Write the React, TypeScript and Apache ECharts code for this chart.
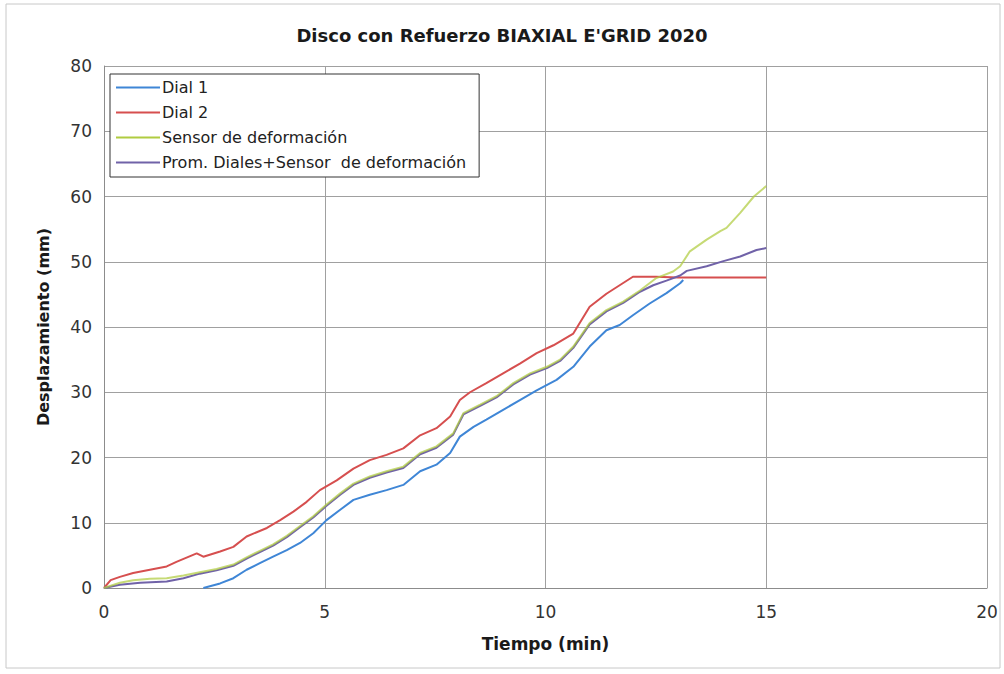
import React, { useEffect, useRef } from "react";
import * as echarts from "echarts";

const titleText = "Disco con Refuerzo BIAXIAL E'GRID 2020";
const xAxisName = "Tiempo (min)";
const yAxisName = "Desplazamiento (mm)";
const seriesNames = ["Dial 1", "Dial 2", "Sensor de deformación", "Prom. Diales+Sensor  de deformación"];

const dial1T = [2.25, 2.63, 2.93, 3.23, 3.53, 3.83, 4.14, 4.44, 4.74, 5.04, 5.35, 5.65, 6.02, 6.4, 6.78, 7.16, 7.53, 7.84, 8.06, 8.37, 8.66, 9.04, 9.42, 9.8, 10.25, 10.63, 11.0, 11.38, 11.68, 11.98, 12.36, 12.74, 13.05, 13.12];
const dial1V = [0, 0.7, 1.5, 2.8, 3.8, 4.8, 5.8, 6.9, 8.4, 10.4, 12.0, 13.5, 14.3, 15.0, 15.8, 17.9, 18.9, 20.7, 23.2, 24.7, 25.8, 27.3, 28.8, 30.3, 31.9, 33.9, 37.0, 39.5, 40.3, 41.8, 43.6, 45.2, 46.7, 47.2];

const dial2T = [0, 0.15, 0.36, 0.66, 1.04, 1.42, 1.64, 2.1, 2.25, 2.63, 2.93, 3.23, 3.69, 3.99, 4.29, 4.59, 4.89, 5.27, 5.65, 6.02, 6.4, 6.78, 7.16, 7.53, 7.84, 8.06, 8.29, 8.66, 9.04, 9.42, 9.8, 10.18, 10.63, 11.0, 11.38, 11.68, 11.98, 12.5, 13.0, 13.5, 14.0, 14.5, 15.0];
const dial2V = [0, 1.2, 1.7, 2.3, 2.8, 3.3, 4.0, 5.3, 4.8, 5.6, 6.3, 7.9, 9.2, 10.4, 11.7, 13.2, 15.0, 16.5, 18.3, 19.6, 20.4, 21.4, 23.4, 24.5, 26.3, 28.8, 30.0, 31.4, 32.9, 34.4, 36.0, 37.2, 39.0, 43.1, 45.1, 46.4, 47.7, 47.7, 47.6, 47.6, 47.6, 47.6, 47.6];

const sensorT = [0, 0.36, 0.66, 1.04, 1.42, 1.8, 2.17, 2.55, 2.93, 3.23, 3.53, 3.83, 4.14, 4.44, 4.74, 5.04, 5.35, 5.65, 6.02, 6.4, 6.78, 7.16, 7.53, 7.91, 8.14, 8.52, 8.89, 9.27, 9.65, 10.03, 10.33, 10.63, 11.0, 11.38, 11.76, 12.14, 12.51, 12.89, 13.05, 13.27, 13.65, 13.96, 14.1, 14.41, 14.72, 15.0];
const sensorV = [0, 0.8, 1.2, 1.4, 1.5, 1.9, 2.4, 2.9, 3.6, 4.7, 5.7, 6.7, 8.0, 9.5, 11.0, 12.8, 14.5, 16.0, 17.1, 17.9, 18.6, 20.7, 21.7, 23.7, 26.8, 28.1, 29.4, 31.4, 32.9, 33.9, 35.0, 37.0, 40.6, 42.6, 43.9, 45.6, 47.5, 48.5, 49.3, 51.6, 53.4, 54.7, 55.2, 57.5, 60.0, 61.6];

const promT = [0, 0.36, 0.82, 1.42, 1.8, 2.17, 2.55, 2.93, 3.23, 3.53, 3.83, 4.14, 4.44, 4.74, 5.04, 5.35, 5.65, 6.02, 6.4, 6.78, 7.16, 7.53, 7.91, 8.14, 8.52, 8.89, 9.27, 9.65, 10.03, 10.33, 10.63, 11.0, 11.38, 11.76, 12.14, 12.44, 12.74, 13.05, 13.2, 13.65, 14.03, 14.41, 14.78, 15.0];
const promV = [0, 0.5, 0.8, 1.0, 1.5, 2.2, 2.7, 3.4, 4.5, 5.5, 6.5, 7.8, 9.3, 10.8, 12.6, 14.3, 15.8, 16.9, 17.7, 18.4, 20.5, 21.5, 23.5, 26.6, 27.9, 29.2, 31.2, 32.7, 33.7, 34.8, 36.8, 40.4, 42.4, 43.7, 45.4, 46.4, 47.1, 47.9, 48.6, 49.3, 50.1, 50.8, 51.8, 52.1];

const xTicks = [0, 5, 10, 15, 20];
const yTicks = [0, 10, 20, 30, 40, 50, 60, 70, 80];

const colors = ["#3f86d6", "#d64f4f", "#b0cc40", "#7062a8"];

function pairs(t: number[], v: number[]) {
  return t.map((x, i) => [x, v[i]]);
}

export default function App() {
  const ref = useRef<HTMLDivElement>(null);
  useEffect(() => {
    document.body.style.margin = "0";
    const chart = echarts.init(ref.current!, null, { renderer: "svg" });
    const font = "'DejaVu Sans', sans-serif";
    const mk = (name: string, data: number[][], color: string, z: number, opacity: number) => ({
      name,
      type: "line",
      data,
      showSymbol: false,
      symbol: "none",
      smooth: false,
      z,
      lineStyle: { color, width: 2, opacity },
      itemStyle: { color },
    });
    chart.setOption({
      animation: false,
      backgroundColor: "#ffffff",
      textStyle: { fontFamily: font },
      title: {
        text: titleText,
        left: "center",
        top: 21,
        textStyle: { fontFamily: font, fontSize: 18, fontWeight: "bold", color: "#1a1a1a" },
      },
      graphic: [
        {
          type: "rect",
          shape: { x: 6, y: 4, width: 994, height: 664 },
          style: { fill: "none", stroke: "#c8c8c8", lineWidth: 1 },
          silent: true,
        },
      ],
      legend: {
        orient: "vertical",
        left: 110,
        top: 74,
        padding: [5, 13, 6, 6],
        itemGap: 8,
        itemWidth: 44,
        itemHeight: 2,
        icon: "rect",
        borderColor: "#333333",
        borderWidth: 1,
        backgroundColor: "#ffffff",
        textStyle: { fontFamily: font, fontSize: 16, color: "#222222", lineHeight: 17, padding: [0, 0, 0, -3] },
        data: seriesNames,
      },
      grid: { left: 104, right: 17, top: 66, bottom: 86, containLabel: false },
      xAxis: {
        type: "value",
        min: xTicks[0],
        max: xTicks[xTicks.length - 1],
        interval: 5,
        name: xAxisName,
        nameLocation: "middle",
        nameGap: 47,
        nameTextStyle: { fontFamily: font, fontSize: 17, fontWeight: "bold", color: "#1a1a1a" },
        axisLine: { show: true, lineStyle: { color: "#8c8c8c", width: 1 } },
        axisTick: { show: false },
        axisLabel: { fontFamily: font, fontSize: 17, color: "#333333", margin: 15 },
        splitLine: { show: true, lineStyle: { color: "#a0a0a0", width: 1 } },
      },
      yAxis: {
        type: "value",
        min: yTicks[0],
        max: yTicks[yTicks.length - 1],
        interval: 10,
        name: yAxisName,
        nameLocation: "middle",
        nameGap: 53,
        nameTextStyle: { fontFamily: font, fontSize: 16, fontWeight: "bold", color: "#1a1a1a" },
        axisLine: { show: true, lineStyle: { color: "#8c8c8c", width: 1 } },
        axisTick: { show: false },
        axisLabel: { fontFamily: font, fontSize: 17, color: "#333333", margin: 12 },
        splitLine: { show: true, lineStyle: { color: "#a0a0a0", width: 1 } },
      },
      series: [
        mk(seriesNames[0], pairs(dial1T, dial1V), colors[0], 2, 1),
        mk(seriesNames[1], pairs(dial2T, dial2V), colors[1], 2, 1),
        mk(seriesNames[3], pairs(promT, promV), colors[3], 3, 1),
        mk(seriesNames[2], pairs(sensorT, sensorV), colors[2], 4, 0.72),
      ],
    });
    return () => chart.dispose();
  }, []);
  return <div ref={ref} style={{ width: 1004, height: 674 }} />;
}
